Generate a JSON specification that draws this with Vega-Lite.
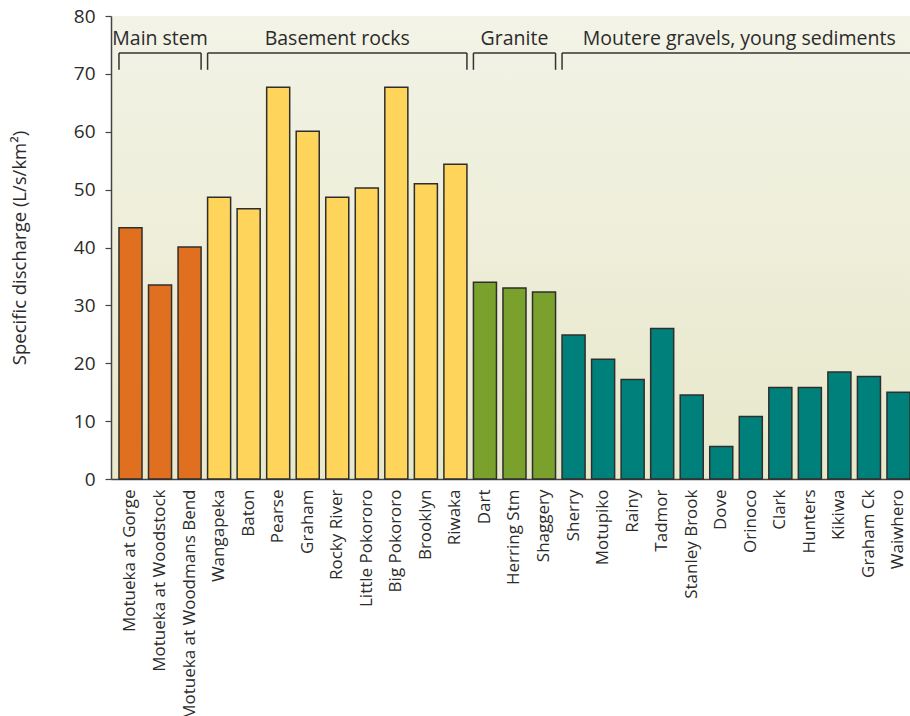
{
  "$schema": "https://vega.github.io/schema/vega-lite/v6.json",
  "autosize": {"type": "none"},
  "width": 799,
  "height": 463,
  "padding": {"left": 111, "top": 16, "right": 0, "bottom": 237},
  "background": "white",
  "config": {
    "font": "Open Sans",
    "view": {"stroke": null, "fill": {"gradient": "linear", "x1": 0, "y1": 0, "x2": 0, "y2": 1, "stops": [{"offset": 0, "color": "#f3f3e7"}, {"offset": 1, "color": "#e8e8cb"}]}}
  },
  "datasets": {
    "bars": [
      {"name": "Motueka at Gorge", "group": "Main stem", "value": 43.4},
      {"name": "Motueka at Woodstock", "group": "Main stem", "value": 33.5},
      {"name": "Motueka at Woodmans Bend", "group": "Main stem", "value": 40.1},
      {"name": "Wangapeka", "group": "Basement rocks", "value": 48.7},
      {"name": "Baton", "group": "Basement rocks", "value": 46.7},
      {"name": "Pearse", "group": "Basement rocks", "value": 67.7},
      {"name": "Graham", "group": "Basement rocks", "value": 60.1},
      {"name": "Rocky River", "group": "Basement rocks", "value": 48.7},
      {"name": "Little Pokororo", "group": "Basement rocks", "value": 50.3},
      {"name": "Big Pokororo", "group": "Basement rocks", "value": 67.7},
      {"name": "Brooklyn", "group": "Basement rocks", "value": 51.0},
      {"name": "Riwaka", "group": "Basement rocks", "value": 54.4},
      {"name": "Dart", "group": "Granite", "value": 34.0},
      {"name": "Herring Stm", "group": "Granite", "value": 33.0},
      {"name": "Shaggery", "group": "Granite", "value": 32.3},
      {"name": "Sherry", "group": "Moutere gravels, young sediments", "value": 24.9},
      {"name": "Motupiko", "group": "Moutere gravels, young sediments", "value": 20.7},
      {"name": "Rainy", "group": "Moutere gravels, young sediments", "value": 17.2},
      {"name": "Tadmor", "group": "Moutere gravels, young sediments", "value": 26.0},
      {"name": "Stanley Brook", "group": "Moutere gravels, young sediments", "value": 14.5},
      {"name": "Dove", "group": "Moutere gravels, young sediments", "value": 5.6},
      {"name": "Orinoco", "group": "Moutere gravels, young sediments", "value": 10.8},
      {"name": "Clark", "group": "Moutere gravels, young sediments", "value": 15.8},
      {"name": "Hunters", "group": "Moutere gravels, young sediments", "value": 15.8},
      {"name": "Kikiwa", "group": "Moutere gravels, young sediments", "value": 18.5},
      {"name": "Graham Ck", "group": "Moutere gravels, young sediments", "value": 17.7},
      {"name": "Waiwhero", "group": "Moutere gravels, young sediments", "value": 15.0}
    ],
    "groups": [
      {"group": "Main stem", "first": "Motueka at Gorge", "last": "Motueka at Woodmans Bend", "mid": "Motueka at Woodstock"},
      {"group": "Basement rocks", "first": "Wangapeka", "last": "Riwaka", "mid": "Rocky River"},
      {"group": "Granite", "first": "Dart", "last": "Shaggery", "mid": "Herring Stm"},
      {"group": "Moutere gravels, young sediments", "first": "Sherry", "last": "Waiwhero", "mid": "Orinoco"}
    ]
  },
  "encoding": {
    "x": {
      "field": "name", "type": "nominal", "title": null,
      "scale": {
        "domain": ["Motueka at Gorge", "Motueka at Woodstock", "Motueka at Woodmans Bend", "Wangapeka", "Baton", "Pearse", "Graham", "Rocky River", "Little Pokororo", "Big Pokororo", "Brooklyn", "Riwaka", "Dart", "Herring Stm", "Shaggery", "Sherry", "Motupiko", "Rainy", "Tadmor", "Stanley Brook", "Dove", "Orinoco", "Clark", "Hunters", "Kikiwa", "Graham Ck", "Waiwhero"],
        "paddingInner": 0.22, "paddingOuter": 0.135, "align": 1
      },
      "axis": {"labelAngle": -90, "ticks": false, "labelPadding": 10, "labelFontSize": 17, "labelLimit": 0, "labelColor": "#2b2b2b", "domainColor": "#444444", "domainWidth": 1.5, "labelAlign": "right", "labelBaseline": "middle"}
    }
  },
  "layer": [
    {
      "data": {"name": "bars"},
      "mark": {"type": "bar", "stroke": "#2e2e2e", "strokeWidth": 1.5},
      "encoding": {
        "y": {
          "field": "value", "type": "quantitative", "title": "Specific discharge (L/s/km²)",
          "scale": {"domain": [0, 80], "nice": false},
          "axis": {"values": [0, 10, 20, 30, 40, 50, 60, 70, 80], "grid": false, "tickSize": 6, "tickColor": "#444444", "tickWidth": 1.2, "domainColor": "#444444", "domainWidth": 1.5, "labelFontSize": 19, "labelColor": "#2b2b2b", "labelPadding": 10, "titleFontSize": 18.5, "titleFontWeight": "normal", "titleColor": "#2b2b2b", "titlePadding": 44}
        },
        "color": {
          "field": "group", "type": "nominal", "legend": null,
          "scale": {"domain": ["Main stem", "Basement rocks", "Granite", "Moutere gravels, young sediments"], "range": ["#e0701f", "#fed55a", "#7aa12c", "#00807a"]}
        }
      }
    },
    {
      "data": {"name": "groups"},
      "mark": {"type": "rule", "color": "#333333", "strokeWidth": 1.5},
      "encoding": {
        "x": {"field": "first", "type": "nominal", "bandPosition": 0},
        "x2": {"field": "last", "bandPosition": 1},
        "y": {"datum": 73.6, "type": "quantitative"}
      }
    },
    {
      "data": {"name": "groups"},
      "mark": {"type": "rule", "color": "#333333", "strokeWidth": 1.5},
      "encoding": {
        "x": {"field": "first", "type": "nominal", "bandPosition": 0},
        "y": {"datum": 70.7, "type": "quantitative"},
        "y2": {"datum": 73.6}
      }
    },
    {
      "data": {"name": "groups"},
      "transform": [{"filter": "datum.group !== 'Moutere gravels, young sediments'"}],
      "mark": {"type": "rule", "color": "#333333", "strokeWidth": 1.5},
      "encoding": {
        "x": {"field": "last", "type": "nominal", "bandPosition": 1},
        "y": {"datum": 70.7, "type": "quantitative"},
        "y2": {"datum": 73.6}
      }
    },
    {
      "data": {"name": "groups"},
      "transform": [{"filter": "datum.group !== 'Moutere gravels, young sediments'"}],
      "mark": {"type": "text", "fontSize": 19.5, "color": "#2b2b2b", "align": "center", "baseline": "alphabetic"},
      "encoding": {
        "x": {"field": "mid", "type": "nominal", "bandPosition": 0.5},
        "y": {"datum": 75, "type": "quantitative"},
        "text": {"field": "group"}
      }
    },
    {
      "data": {"name": "groups"},
      "transform": [{"filter": "datum.group === 'Moutere gravels, young sediments'"}],
      "mark": {"type": "text", "fontSize": 19.5, "color": "#2b2b2b", "align": "center", "baseline": "alphabetic"},
      "encoding": {
        "x": {"field": "mid", "type": "nominal", "bandPosition": 0},
        "y": {"datum": 75, "type": "quantitative"},
        "text": {"field": "group"}
      }
    }
  ]
}
